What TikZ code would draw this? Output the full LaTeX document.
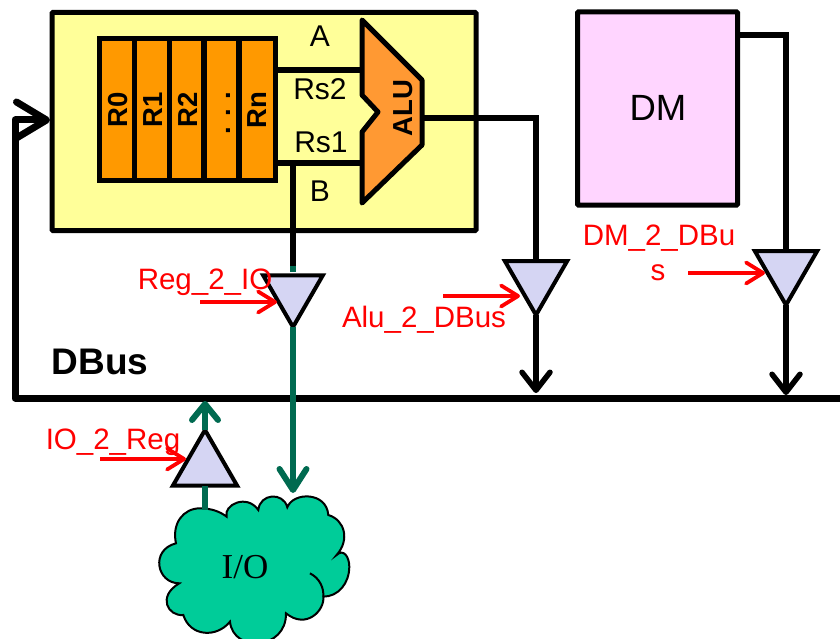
\documentclass[tikz,border=0pt]{standalone}
\usepackage{fontspec}
\setmainfont{Liberation Sans}
\newfontfamily\serifio{Liberation Serif}
\usetikzlibrary{arrows.meta,shapes.geometric,calc}
\definecolor{boxyellow}{HTML}{FFFF99}
\definecolor{regorange}{HTML}{FF9900}
\definecolor{aluorange}{HTML}{FF9933}
\definecolor{bufblue}{HTML}{D5D5F3}
\definecolor{dmpink}{HTML}{FFD5FF}
\definecolor{cloudgreen}{HTML}{00CC99}
\definecolor{wiregreen}{HTML}{006A50}
\newcommand{\fs}[1]{\fontsize{#1}{#1}\selectfont}
\tikzset{
  box/.style={draw=black,line width=5pt,rounded corners=1pt,inner sep=0pt,outer sep=0pt},
  regcell/.style={draw=black,line width=5pt,fill=regorange,inner sep=0pt,outer sep=0pt,minimum width=34.5pt,minimum height=142pt},
  reglabel/.style={rotate=90,font=\fs{27.5}\bfseries,inner sep=0pt},
  lab/.style={inner sep=0pt,font=\fs{30}},
  redlab/.style={inner sep=0pt,font=\fs{29.5},text=red},
  buffer/.style={draw=black,line width=4pt,fill=bufblue,regular polygon,regular polygon sides=3,inner sep=0pt,outer sep=0pt,anchor=corner 1,minimum size=72pt},
  wire/.style={draw=black,line width=5.5pt},
  darrow/.style={line width=5.5pt,-{Straight Barb[length=18pt,width=28pt,line width=5.5pt,round]}},
  redarrow/.style={draw=red,line width=3.8pt,-{Straight Barb[length=17pt,width=21pt,line width=3.8pt,round]}},
}
\begin{document}
\begin{tikzpicture}[x=1pt,y=-1pt]
\useasboundingbox (0,0) rectangle (840,639);
% boxes
\node[box,fill=boxyellow,minimum width=424pt,minimum height=218pt] (cpu) at (264,121.5) {};
\node[box,fill=dmpink,minimum width=160pt,minimum height=193pt] (dm) at (657.5,108.5) {};
\node[font=\fs{36.5}] (dmlabel) at (658,108) {DM};
% coordinates
\coordinate (rs2l) at (275,70);
\coordinate (rs2r) at (362,70);
\coordinate (rs1l) at (275,163);
\coordinate (rs1r) at (362,163);
\coordinate (tap) at (293,163);
\coordinate (aluout) at (422,118);
\coordinate (alucorner) at (536,118);
\coordinate (dmcorner) at (786,35);
% register-to-ALU wires
\draw[wire] (rs2l) -- (rs2r);
\draw[wire] (rs1l) -- (rs1r);
% registers
\node[regcell,minimum width=37pt] (r0) at (118,110) {};
\node[regcell] (r1) at (152,110) {};
\node[regcell] (r2) at (186.5,110) {};
\node[regcell] (rd) at (221.5,110) {};
\node[regcell,minimum width=36pt] (rn) at (257,110) {};
\node[reglabel] (r0t) at (118,110) {R0};
\node[reglabel] (r1t) at (153,110) {R1};
\node[reglabel] (r2t) at (188,110) {R2};
\node[reglabel] (rdt) at (228,113) {. . .};
\node[reglabel] (rnt) at (257,110) {Rn};
% ALU
\draw[draw=black,fill=aluorange,line width=5pt,line join=round]
  (362,20) -- (422,80) -- (422,145) -- (362,203) -- (362,132) -- (378,112) -- (362,95) -- cycle;
\node[reglabel] (alu) at (403,108) {ALU};
\node[lab] (a) at (320,36) {A};
\node[lab] (rs2) at (320,89) {Rs2};
\node[lab] (rs1) at (321,142) {Rs1};
\node[lab] (b) at (320,191) {B};
% bus
\draw[line width=7pt,line join=round,-{Straight Barb[length=30pt,width=36pt,line width=7pt,round]}]
  (840,398) coordinate (busr) -- (15,398) -- (15,120) -- (50,120) coordinate (cpuin);
% cloud
\begin{scope}[x=0.3333pt,y=-0.3333pt,yshift=-380pt]
\draw[draw=black,fill=cloudgreen,line width=2pt]
 (528,490) .. controls (515,430) and (550,385) .. (600,385)
 .. controls (635,385) and (660,395) .. (680,410)
 .. controls (670,375) and (740,340) .. (775,390)
 .. controls (780,340) and (850,335) .. (862,382)
 .. controls (880,335) and (980,335) .. (985,405)
 .. controls (1035,420) and (1050,480) .. (1010,525)
 .. controls (1030,505) and (1048,530) .. (1048,560)
 .. controls (1048,610) and (1015,650) .. (970,650)
 .. controls (975,690) and (920,750) .. (858,700)
 .. controls (860,810) and (700,820) .. (690,725)
 .. controls (650,775) and (570,770) .. (550,705)
 .. controls (505,710) and (470,650) .. (538,610)
 .. controls (470,610) and (450,510) .. (528,490) -- cycle;
\draw[draw=black,line width=2pt] (930,580) .. controls (960,595) and (972,625) .. (970,650);
\end{scope}
\node[font=\fs{35}\serifio,inner sep=0pt] (io) at (245,567) {I/O};
\coordinate (cloudtop) at (205,510);
\coordinate (cloudin) at (293,493);
% buffers
\node[buffer,minimum size=69pt,shape border rotate=180] (t1) at (293,327) {};
\node[buffer,minimum size=72pt,shape border rotate=180] (t2) at (536,315) {};
\node[buffer,minimum size=72pt,shape border rotate=180] (t3) at (786,305) {};
\node[buffer,minimum size=74pt] (t4) at (205,430) {};
\coordinate (t1in) at (293,272);
% black wires
\draw[wire] (tap) -- (293,266) coordinate (tapend);
\draw[wire,draw=wiregreen] (tapend) -- (t1in);
\draw[wire] (aluout) -- (alucorner) -- (t2.side 2);
\draw[wire] (dm.north east |- dmcorner) -- (dmcorner) -- (t3.side 2);
\draw[darrow] (t2.corner 1) -- (536,393);
\draw[darrow] (t3.corner 1) -- (786,395);
% green wires
\draw[darrow,draw=wiregreen,line width=6pt,-{Straight Barb[length=21pt,width=27pt,line width=6pt,round]}] (t1.corner 1) -- (cloudin);
\draw[darrow,draw=wiregreen,line width=6pt,-{Straight Barb[length=16pt,width=26pt,line width=6pt,round]}] (t4.corner 1) -- (205,401);
\draw[draw=wiregreen,line width=6pt] (t4.side 2) -- (cloudtop);
% labels
\node[font=\fs{37}\bfseries,inner sep=0pt] (dbus) at (100,362) {DBus};
\node[redlab] (l1) at (205,282) {Reg\_2\_IO};
\node[redlab] (l2) at (424,320) {Alu\_2\_DBus};
\node[redlab] (l3a) at (659,238) {DM\_2\_DBu};
\node[redlab] (l3b) at (658,273) {s};
\node[redlab] (l4) at (113,442) {IO\_2\_Reg};
% control arrows
\coordinate (c1) at (200,302);
\coordinate (c2) at (443,296);
\coordinate (c3) at (688,273);
\coordinate (c4) at (100,459);
\draw[redarrow] (c1) -- (277,302);
\draw[redarrow] (c2) -- (520,296);
\draw[redarrow] (c3) -- (765,273);
\draw[redarrow] (c4) -- (186,459);
\end{tikzpicture}
\end{document}
